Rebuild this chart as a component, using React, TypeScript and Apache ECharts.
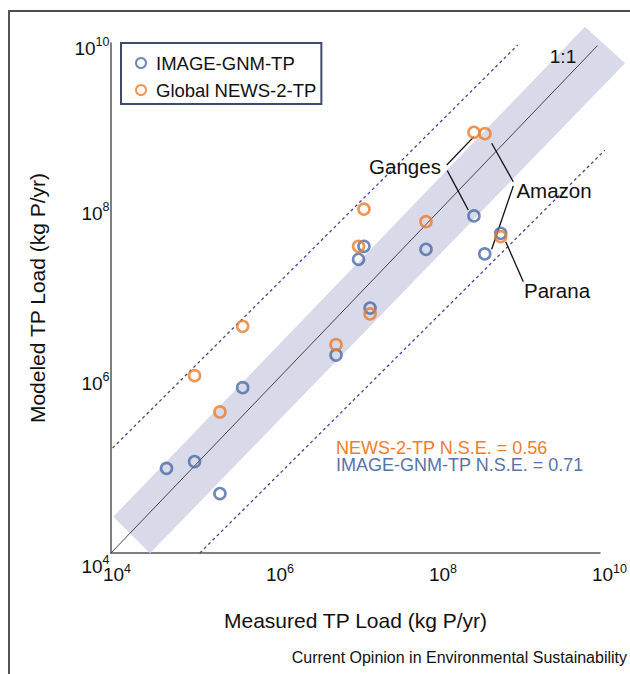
import React, { useEffect, useRef } from 'react';
import * as echarts from 'echarts';

// ---- data (kg P/yr) ----
const imageMeasured = [4.8e4, 1.06e5, 2.17e5, 4.13e5, 5.77e6, 1.09e7, 1.27e7, 1.51e7, 7.33e7, 2.84e8, 3.85e8, 6.05e8];
const imageModeled = [9.9e4, 1.19e5, 5.0e4, 8.8e5, 2.13e6, 2.85e7, 4.06e7, 7.62e6, 3.74e7, 9.23e7, 3.3e7, 5.77e7];
const newsMeasured = [1.06e5, 2.17e5, 4.13e5, 5.77e6, 1.09e7, 1.27e7, 1.51e7, 7.33e7, 2.84e8, 3.88e8, 6.05e8];
const newsModeled = [1.22e6, 4.56e5, 4.65e6, 2.82e6, 4.06e7, 1.11e8, 6.49e6, 7.91e7, 8.89e8, 8.57e8, 5.27e7];

const seriesNames = ['IMAGE-GNM-TP', 'Global NEWS-2-TP'];
const tickExponents = [4, 6, 8, 10];

// reference geometry in log10 units (measured, modeled)
const bandCorners = [[4.028, 4.427], [4.479, 3.996], [10.307, 9.761], [9.816, 10.192]];
const oneToOne = [[4, 4, 9.97, 9.97]];
const dashedLines = [[4.02, 5.235, 8.99, 9.976], [5.09, 4.0, 10.06, 8.74]];
const leaderLines = [
  [8.119, 8.565, 8.454, 8.898],
  [8.126, 8.498, 8.384, 8.035],
  [8.936, 8.368, 8.671, 8.82],
  [8.936, 8.318, 8.671, 7.573],
  [9.059, 7.192, 8.843, 7.662],
];

const FONT = 'Liberation Sans, Arial, Helvetica, sans-serif';
const BLUE = '#4a6aa8';
const ORANGE = '#ec7a2c';
const BAND = '#d9dae9';
const DASH = '#44469a';
const INK = '#111';

const pow = (d: number) => Math.pow(10, d);

const segData = (arr: number[][]) => arr.map((s) => [pow(s[0]), pow(s[1]), pow(s[2]), pow(s[3])]);

const segSeries = (name: string, arr: number[][], style: any, z: number) => ({
  type: 'custom',
  name,
  silent: true,
  z,
  clip: false,
  encode: { x: [0, 2], y: [1, 3] },
  data: segData(arr),
  renderItem: (_p: any, api: any) => {
    const a = api.coord([api.value(0), api.value(1)]);
    const b = api.coord([api.value(2), api.value(3)]);
    return {
      type: 'line',
      shape: { x1: a[0], y1: a[1], x2: b[0], y2: b[1] },
      style: { fill: null, ...style },
    };
  },
});

const txt = (x: number, y: number, text: string, fontSize: number, fill: string, textAlign = 'center') => ({
  type: 'text',
  x,
  y,
  z: 20,
  silent: true,
  style: { text, fontSize, fontFamily: FONT, fill, textAlign, textVerticalAlign: 'middle' },
});

export default function App() {
  const ref = useRef<HTMLDivElement>(null);
  useEffect(() => {
    document.body.style.margin = '0';
    if (!ref.current) return;
    const chart = echarts.init(ref.current, null, { renderer: 'svg' });

    const option: any = {
      animation: false,
      backgroundColor: '#fff',
      grid: { left: 111, top: 43, width: 489, height: 510 },
      xAxis: {
        type: 'log',
        logBase: 10,
        min: 1e4,
        max: 1e10,
        name: 'Measured TP Load (kg P/yr)',
        nameLocation: 'middle',
        nameGap: 57,
        nameTextStyle: { fontSize: 21, fontFamily: FONT, color: INK },
        axisLine: { show: true, lineStyle: { color: '#555', width: 1.5 } },
        axisTick: { show: false },
        splitLine: { show: false },
        minorTick: { show: false },
        axisLabel: { show: false },
      },
      yAxis: {
        type: 'log',
        logBase: 10,
        min: 1e4,
        max: 1e10,
        name: 'Modeled TP Load (kg P/yr)',
        nameLocation: 'middle',
        nameGap: 63,
        nameTextStyle: { fontSize: 21, fontFamily: FONT, color: INK },
        axisLine: { show: true, lineStyle: { color: '#555', width: 1.5 } },
        axisTick: { show: false },
        splitLine: { show: false },
        axisLabel: { show: false },
      },
      legend: {
        data: seriesNames,
        orient: 'vertical',
        left: 121,
        top: 43,
        padding: [10, 5, 4, 14],
        itemGap: 7,
        itemWidth: 20,
        itemHeight: 10,
        icon: 'circle',
        borderColor: '#3d4a6b',
        borderWidth: 2,
        textStyle: { fontSize: 18.5, fontFamily: FONT, color: INK, lineHeight: 20 },
      },
      series: [
        {
          type: 'custom',
          name: 'band',
          silent: true,
          z: 1,
          clip: false,
          data: [[1e5, 1e5]],
          renderItem: (_p: any, api: any) => {
            const pts = bandCorners.map((c) => api.coord([pow(c[0]), pow(c[1])]));
            return { type: 'polygon', shape: { points: pts }, style: { fill: BAND } };
          },
        },
        segSeries('dashed', dashedLines, { stroke: DASH, lineWidth: 1.3, lineDash: [3, 3] }, 2),
        segSeries('1:1', oneToOne, { stroke: '#333', lineWidth: 0.9 }, 2),
        segSeries('leaders', leaderLines, { stroke: INK, lineWidth: 1.3 }, 4),
        {
          type: 'scatter',
          name: seriesNames[0],
          z: 5,
          symbol: 'circle',
          symbolSize: 11,
          itemStyle: { color: 'rgba(255,255,255,0)', borderColor: BLUE, borderWidth: 2.6 },
          data: imageMeasured.map((m, i) => [m, imageModeled[i]]),
        },
        {
          type: 'scatter',
          name: seriesNames[1],
          z: 5,
          symbol: 'circle',
          symbolSize: 11,
          itemStyle: { color: 'rgba(255,255,255,0)', borderColor: ORANGE, borderWidth: 2.6 },
          data: newsMeasured.map((m, i) => [m, newsModeled[i]]),
        },
      ],
    };
    chart.setOption(option);

    // tick labels "10^n" placed through the axes
    const BASE = 19;
    const SUP = 12.5;
    const supW = (e: number) => String(e).length * 0.556 * SUP;
    const tickTexts: any[] = [];
    const axisY = chart.convertToPixel({ yAxisIndex: 0 }, 1e4) as number;
    const axisX = chart.convertToPixel({ xAxisIndex: 0 }, 1e4) as number;
    tickExponents.forEach((e) => {
      const px = chart.convertToPixel({ xAxisIndex: 0 }, pow(e)) as number;
      tickTexts.push(txt(px - 8, axisY + 21.5, '10', BASE, INK, 'left'));
      tickTexts.push(txt(px + 13, axisY + 16, String(e), SUP, INK, 'left'));
      const py = chart.convertToPixel({ yAxisIndex: 0 }, pow(e)) as number;
      const shift = e === 4 ? 13 : e === 10 ? 5 : 0;
      const supRight = axisX - 1.5;
      tickTexts.push(txt(supRight - supW(e), py + shift + 0.5, '10', BASE, INK, 'right'));
      tickTexts.push(txt(supRight, py + shift - 6, String(e), SUP, INK, 'right'));
    });

    chart.setOption({
      graphic: [
        { type: 'line', z: 20, silent: true, shape: { x1: 9, y1: 11, x2: 630, y2: 11 }, style: { stroke: INK, lineWidth: 1.6 } },
        { type: 'line', z: 20, silent: true, shape: { x1: 9, y1: 10, x2: 9, y2: 674 }, style: { stroke: '#555', lineWidth: 2 } },
        txt(563, 56, '1:1', 19, INK),
        txt(405, 166, 'Ganges', 20.5, INK),
        txt(554, 190, 'Amazon', 20.5, INK),
        txt(557, 290, 'Parana', 20.5, INK),
        txt(336, 447.5, 'NEWS-2-TP N.S.E. = 0.56', 18, '#f07d2d', 'left'),
        txt(336, 464.5, 'IMAGE-GNM-TP N.S.E. = 0.71', 18, '#5a73a6', 'left'),
        txt(627, 657, 'Current Opinion in Environmental Sustainability', 16, INK, 'right'),
        ...tickTexts,
      ],
    });
    return () => chart.dispose();
  }, []);
  return <div ref={ref} style={{ width: 630, height: 674 }} />;
}
